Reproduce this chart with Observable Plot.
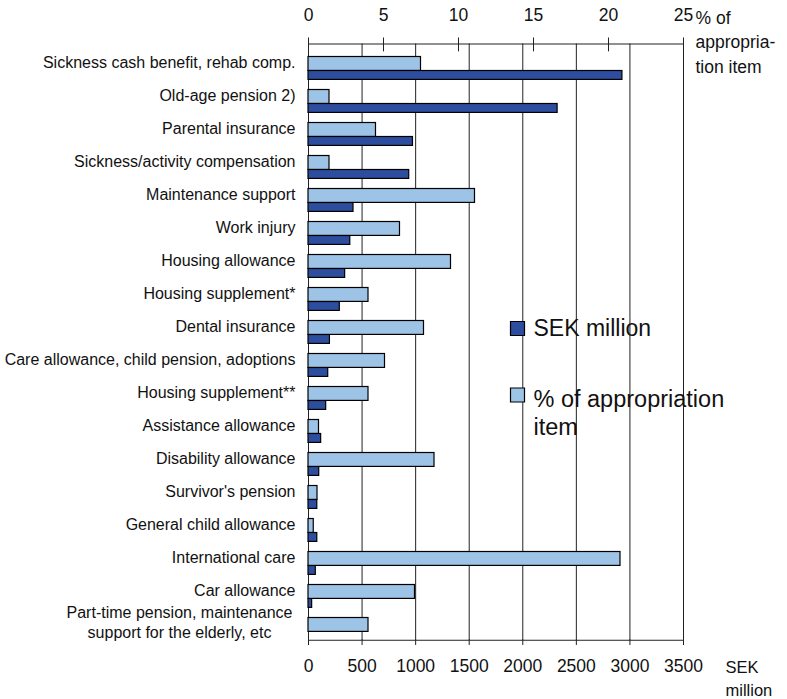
<!DOCTYPE html>
<html>
<head>
<meta charset="utf-8">
<script src="https://cdn.jsdelivr.net/npm/d3@7"></script>
<script src="https://cdn.jsdelivr.net/npm/@observablehq/plot@0.6"></script>
<style>
  html, body { margin: 0; padding: 0; background: #fff; }
  #chart svg { display: block; }
</style>
</head>
<body>
<div id="chart"></div>
<script>
// ---- data ----
const categories = [
  "Sickness cash benefit, rehab comp.",
  "Old-age pension 2)",
  "Parental insurance",
  "Sickness/activity compensation",
  "Maintenance support",
  "Work injury",
  "Housing allowance",
  "Housing supplement*",
  "Dental insurance",
  "Care allowance, child pension, adoptions",
  "Housing supplement**",
  "Assistance allowance",
  "Disability allowance",
  "Survivor's pension",
  "General child allowance",
  "International care",
  "Car allowance",
  "Part-time pension, maintenance\nsupport for the elderly, etc"
];
const sekMillion = [2930, 2325, 975, 940, 420, 390, 342, 292, 200, 184, 165, 118, 100, 82, 82, 68, 34, 0];
const pctOfAppropriation = [7.5, 1.4, 4.5, 1.4, 11.1, 6.1, 9.5, 4.0, 7.7, 5.1, 4.0, 0.7, 8.4, 0.6, 0.35, 20.8, 7.1, 4.0];
const sekTicks = [0, 500, 1000, 1500, 2000, 2500, 3000, 3500];
const pctTicks = [0, 5, 10, 15, 20, 25];
const seriesNames = ["SEK million", "% of appropriation\nitem"];
const pctAxisTitle = "% of\nappropria-\ntion item";
const sekAxisTitle = "SEK\nmillion";

// ---- layout ----
const sekMax = 3500, pctMax = 25;
const k = sekMax / pctMax; // map % onto the shared pixel scale
const rows = categories.map((c, i) => ({cat: c, sek: sekMillion[i], pct: pctOfAppropriation[i]}));
const W = 787, H = 699;
const mTop = 43.5, mBottom = 59.25, mLeft = 308, mRight = 104;
const bw = (H - mTop - mBottom) / categories.length;
const dark = "#2d4e9f", light = "#9dc3e6";
const font = "Liberation Sans, Arial, Helvetica, sans-serif";
const txt = "#111";

const chart = Plot.plot({
  width: W, height: H,
  marginTop: mTop, marginBottom: mBottom, marginLeft: mLeft, marginRight: mRight,
  style: {fontFamily: font, background: "#fff", color: txt},
  x: {domain: [0, sekMax], axis: null},
  y: {domain: categories, axis: null, padding: 0},
  marks: [
    // gridlines and left axis
    Plot.ruleX(sekTicks, {x: d => d, stroke: "#222", strokeWidth: 1}),
    Plot.frame({anchor: "top", stroke: "#222"}),
    Plot.frame({anchor: "bottom", stroke: "#222"}),
    // top (%) ticks crossing the axis
    Plot.tickX(pctTicks, {x: d => d * k, y: () => categories[0], insetTop: -7.5, insetBottom: bw - 6.5, stroke: "#222"}),
    // bottom (SEK) ticks
    Plot.tickX(sekTicks, {x: d => d, y: () => categories[categories.length - 1], insetTop: bw, insetBottom: -6, stroke: "#222"}),
    // bars: SEK million (dark) below, % (light) above
    Plot.barX(rows, {y: "cat", x: "sek", fill: dark, stroke: "#000", strokeWidth: 1.2, insetTop: 25.5, insetBottom: -1.4}),
    Plot.barX(rows, {y: "cat", x: d => d.pct * k, fill: light, stroke: "#000", strokeWidth: 1.2, insetTop: 11.5, insetBottom: 7.6}),
    // top tick labels (%)
    Plot.text(pctTicks, {x: d => d * k, text: d => String(d), frameAnchor: "top", dy: 15 - mTop, lineAnchor: "middle", fontSize: 17.5, fill: txt}),
    Plot.text([pctAxisTitle], {x: () => sekMax, text: d => d, frameAnchor: "top", dx: 12, dy: 40 - mTop, textAnchor: "start", lineAnchor: "middle", lineHeight: 1.4, fontSize: 17.5, fill: txt}),
    // bottom tick labels (SEK)
    Plot.text(sekTicks, {x: d => d, text: d => String(d), frameAnchor: "bottom", dy: 665.5 - (H - mBottom), lineAnchor: "middle", fontSize: 17.5, fill: txt}),
    Plot.text([sekAxisTitle], {x: () => sekMax, text: d => d, frameAnchor: "bottom", dx: 42, dy: 676.5 - (H - mBottom), textAnchor: "start", lineAnchor: "middle", lineHeight: 1.42, fontSize: 16.5, fill: txt}),
    // category labels
    Plot.text(categories.slice(0, -1), {y: d => d, text: d => d, frameAnchor: "left", dx: -13, dy: 1, textAnchor: "end", lineAnchor: "middle", fontSize: 16, fill: txt}),
    Plot.text(categories.slice(-1), {y: d => d, text: d => d, frameAnchor: "left", dx: 179 - mLeft, dy: -1, textAnchor: "middle", lineAnchor: "middle", lineHeight: 1.25, fontSize: 16, fill: txt}),
    // legend
    Plot.dot([0], {frameAnchor: "top-left", dx: 517 - mLeft, dy: 328 - mTop, symbol: "square", r: 7.9, fill: dark, stroke: "#000", strokeWidth: 1.2}),
    Plot.dot([0], {frameAnchor: "top-left", dx: 517 - mLeft, dy: 394.5 - mTop, symbol: "square", r: 7.9, fill: light, stroke: "#000", strokeWidth: 1.2}),
    Plot.text([seriesNames[0]], {text: d => d, frameAnchor: "top-left", dx: 533 - mLeft, dy: 328 - mTop, textAnchor: "start", lineAnchor: "middle", fontSize: 23, fill: txt}),
    Plot.text([seriesNames[1]], {text: d => d, frameAnchor: "top-left", dx: 533 - mLeft, dy: 411.5 - mTop, textAnchor: "start", lineAnchor: "middle", lineHeight: 1.18, fontSize: 23.5, fill: txt})
  ]
});
document.getElementById("chart").appendChild(chart);
</script>
</body>
</html>
